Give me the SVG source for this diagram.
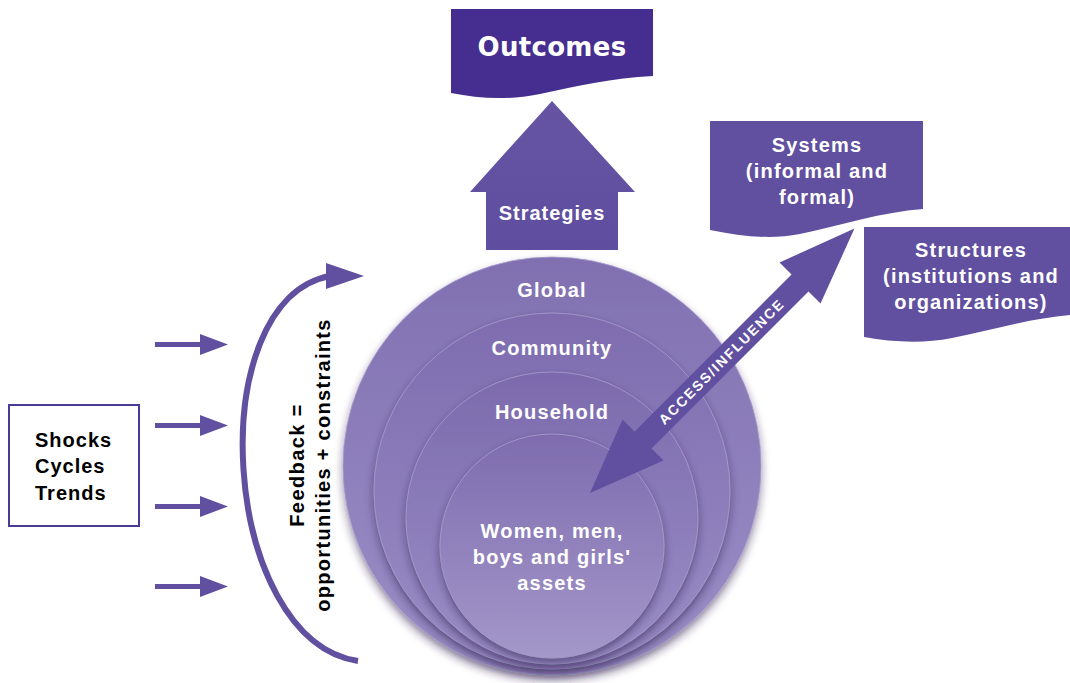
<svg xmlns="http://www.w3.org/2000/svg" width="1070" height="683" viewBox="0 0 1070 683">
<style>
.t{font-family:"Liberation Sans",Arial,sans-serif;font-weight:bold;font-size:20px;fill:#fff;text-anchor:middle;letter-spacing:1.2px}
.k{font-family:"Liberation Sans",Arial,sans-serif;font-weight:bold;font-size:20px;fill:#000}
.ring{stroke:#a89ccd;stroke-width:0.8;filter:url(#sh)}
.dk{fill:#6150a0}
</style>
<defs>
<linearGradient id="g1" x1="0" y1="0" x2="0" y2="1"><stop offset="0" stop-color="#8170b1"/><stop offset="1" stop-color="#9b8fc6"/></linearGradient>
<linearGradient id="g2" x1="0" y1="0" x2="0" y2="1"><stop offset="0" stop-color="#7e6caf"/><stop offset="1" stop-color="#9a8dc5"/></linearGradient>
<linearGradient id="g3" x1="0" y1="0" x2="0" y2="1"><stop offset="0" stop-color="#7c6aad"/><stop offset="1" stop-color="#9b8fc6"/></linearGradient>
<linearGradient id="g4" x1="0" y1="0" x2="0" y2="1"><stop offset="0" stop-color="#7e6caf"/><stop offset="1" stop-color="#a497c9"/></linearGradient>
<linearGradient id="gs" x1="0" y1="0" x2="0" y2="1"><stop offset="0" stop-color="#6654a3"/><stop offset="1" stop-color="#5f4e9f"/></linearGradient>
<filter id="sh" x="-20%" y="-20%" width="140%" height="140%"><feDropShadow dx="0" dy="5" stdDeviation="4" flood-color="#2e2050" flood-opacity="0.55"/></filter>
</defs>

<g id="outcomes">
<path d="M451,9 H653 V76 C612,78 578,86 540,94 C505,101 478,98 451,93 Z" fill="#452e8f"/>
<text x="552" y="56" style="font-family:'DejaVu Sans',sans-serif;font-weight:bold;font-size:26px;fill:#fff;text-anchor:middle;letter-spacing:0.3px">Outcomes</text>
</g>

<g id="strategies">
<polygon points="552,101 635,192 618,192 618,250 486,250 486,192 470,192" fill="url(#gs)"/>
<text class="t" x="552" y="220" style="letter-spacing:1px">Strategies</text>
</g>

<g id="systems">
<path d="M710,121 H923 V209 C882,212 842,225 800,234 C770,240 740,236 710,230 Z" class="dk"/>
<text class="t" x="817" y="152">Systems</text>
<text class="t" x="817" y="178">(informal and</text>
<text class="t" x="817" y="204">formal)</text>
</g>

<g id="structures">
<path d="M864,227 H1070 V315 C1032,318 992,330 952,338 C922,344 892,342 864,337 Z" class="dk"/>
<text class="t" x="971" y="257">Structures</text>
<text class="t" x="971" y="283">(institutions and</text>
<text class="t" x="971" y="309">organizations)</text>
</g>

<g id="circles">
<circle cx="552" cy="466" r="209" fill="url(#g1)" class="ring"/>
<circle cx="552" cy="491" r="178" fill="url(#g2)" class="ring"/>
<circle cx="552" cy="518" r="146" fill="url(#g3)" class="ring"/>
<circle cx="552" cy="546" r="112" fill="url(#g4)" class="ring"/>
<text class="t" x="552" y="297">Global</text>
<text class="t" x="552" y="355">Community</text>
<text class="t" x="552" y="419">Household</text>
<text class="t" x="552" y="538">Women, men,</text>
<text class="t" x="552" y="564">boys and girls'</text>
<text class="t" x="552" y="590">assets</text>
</g>

<g id="shocks">
<rect x="9" y="405" width="130" height="121" fill="#fff" stroke="#4a3a96" stroke-width="2"/>
<text class="k" x="35" y="447" style="letter-spacing:1px">Shocks</text>
<text class="k" x="35" y="473" style="letter-spacing:1px">Cycles</text>
<text class="k" x="35" y="500" style="letter-spacing:1px">Trends</text>
</g>

<g id="feedback">
<text class="k" transform="translate(304,465) rotate(-90)" text-anchor="middle" style="letter-spacing:1.4px">Feedback =</text>
<text class="k" transform="translate(330,465) rotate(-90)" text-anchor="middle" style="letter-spacing:1.3px">opportunities + constraints</text>
</g>

<g id="connectors">
<g fill="#6150a0">
<rect x="155" y="342" width="47" height="5"/><polygon points="200,334 228,344.5 200,355"/>
<rect x="155" y="423" width="47" height="5"/><polygon points="200,415 228,425.5 200,436"/>
<rect x="155" y="504" width="47" height="5"/><polygon points="200,496 228,506.5 200,517"/>
<rect x="155" y="584" width="47" height="5"/><polygon points="200,576 228,586.5 200,597"/>
</g>
<path d="M358,661 C220,640 200,300 330,276" fill="none" stroke="#6150a0" stroke-width="6"/>
<polygon points="326,263 364,276 326,289" fill="#6150a0"/>
<g transform="translate(590,493) rotate(-45)">
<polygon points="0,0 75,-29 75,-12 297,-12 297,-29 374,0 297,29 297,12 75,12 75,29" fill="#6150a0"/>
<text x="186" y="5" style="font-family:'Liberation Sans',Arial,sans-serif;font-weight:bold;font-size:14px;fill:#fff;text-anchor:middle;letter-spacing:1.8px">ACCESS/INFLUENCE</text>
</g>
</g>
</svg>
